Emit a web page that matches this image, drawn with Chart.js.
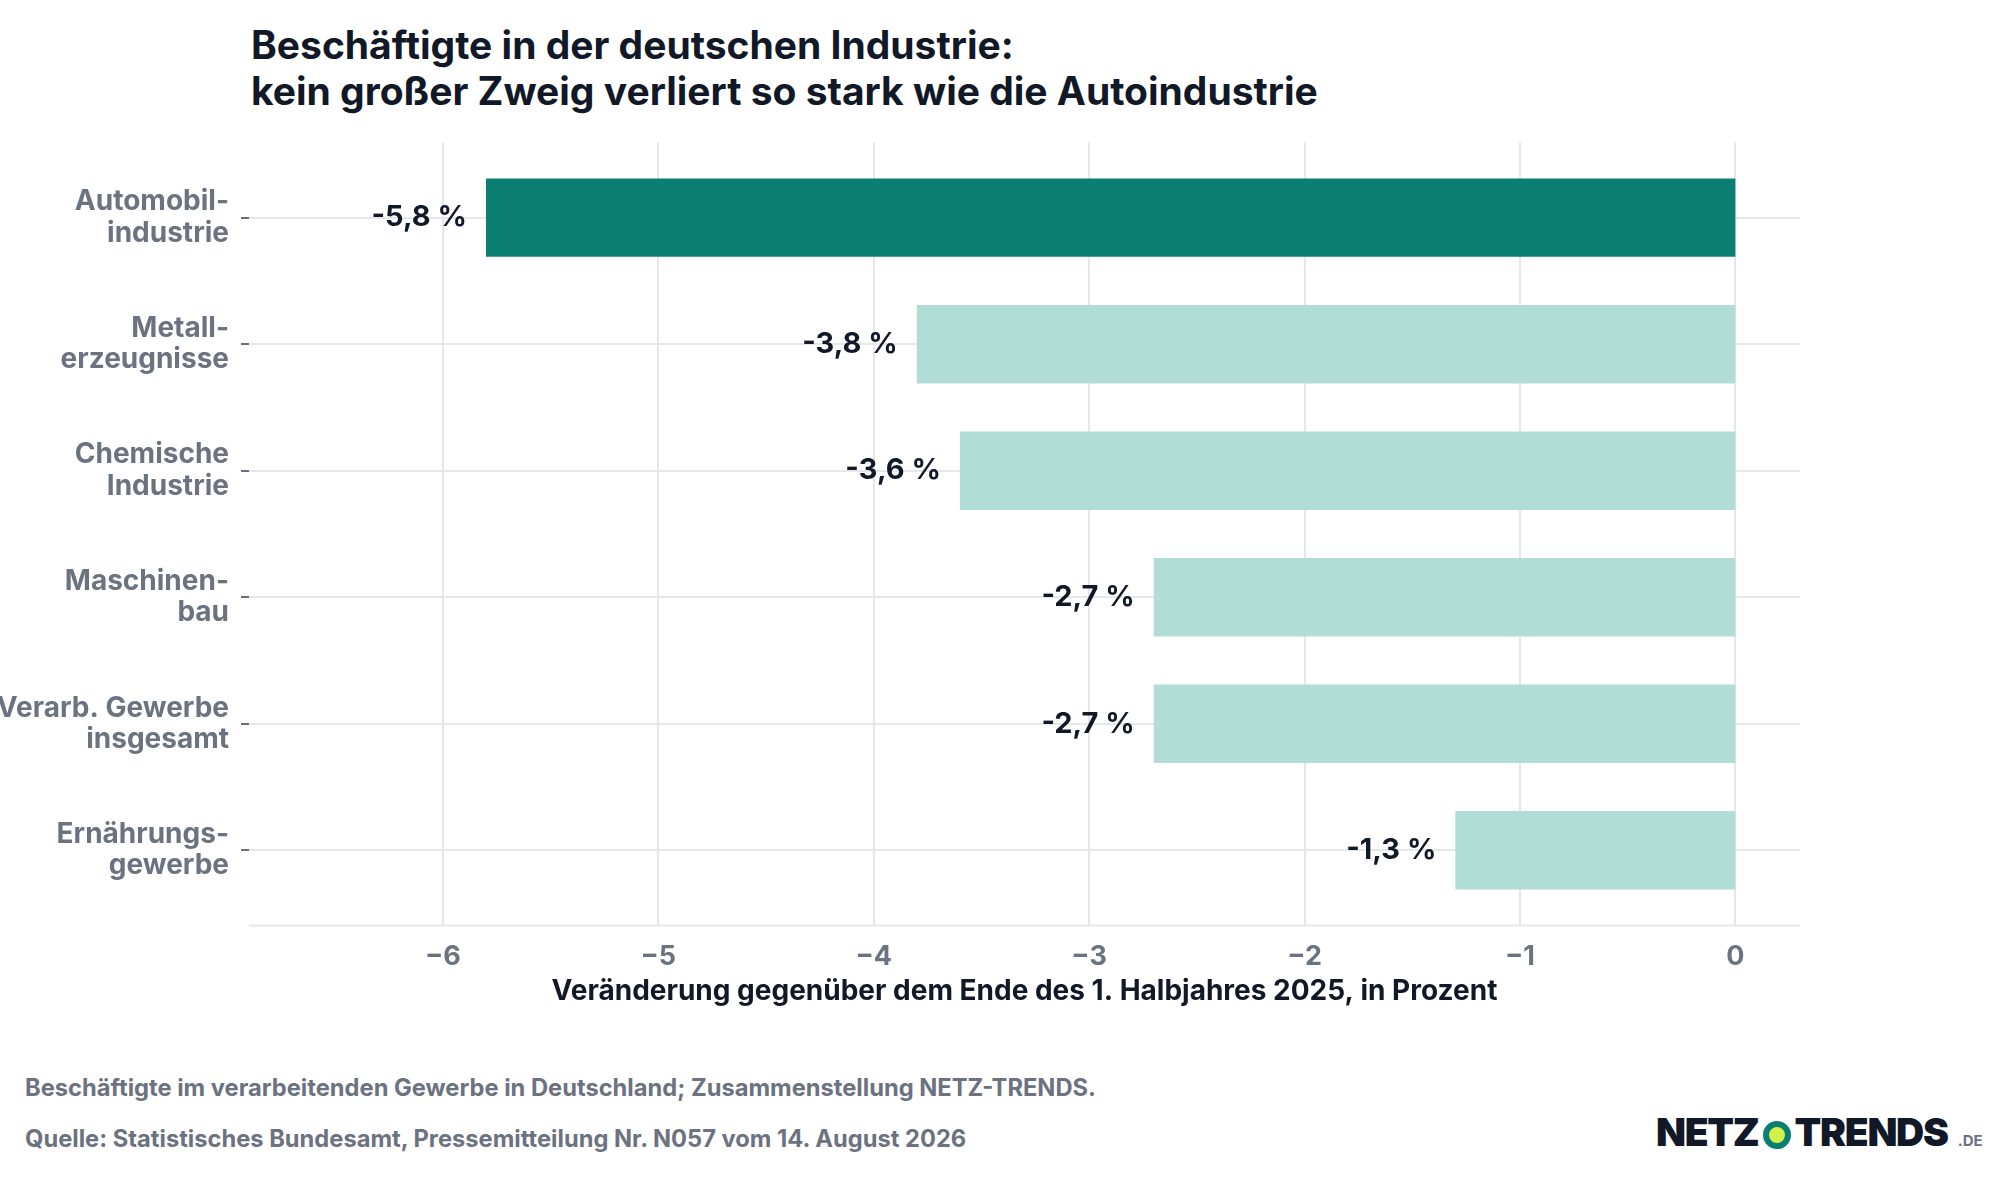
<!DOCTYPE html>
<html><head><meta charset="utf-8">
<script src="https://cdn.jsdelivr.net/npm/chart.js@4"></script>
<style>
body{margin:0;width:2000px;height:1200px;background:#fff;font-family:Inter,sans-serif;position:relative;overflow:hidden}
#t{position:absolute;left:251px;top:22px;font-size:39px;font-weight:700;color:#111827;line-height:46px}
#wrap{position:absolute;left:0;top:111px;width:1800px;height:899px}
.f{position:absolute;left:25px;font-size:23.7px;font-weight:700;color:#6b7280}
#logo{position:absolute;left:1656px;top:1108px;font-size:39px;font-weight:900;color:#111827;letter-spacing:-1.3px;white-space:nowrap}
#logo i{display:inline-block;width:16px;height:16px;border-radius:50%;background:#d4f04a;border:6px solid #0a7f71;vertical-align:-3px;margin:0 4px}
#logo small{font-size:15px;color:#6b7280;font-weight:700;margin-left:10px;letter-spacing:0}
</style></head><body>
<div id="t">Beschäftigte in der deutschen Industrie:<br>kein großer Zweig verliert so stark wie die Autoindustrie</div>
<div id="wrap"><canvas id="c"></canvas></div>
<div class="f" style="top:1073px">Beschäftigte im verarbeitenden Gewerbe in Deutschland; Zusammenstellung NETZ-TRENDS.</div>
<div class="f" style="top:1124px">Quelle: Statistisches Bundesamt, Pressemitteilung Nr. N057 vom 14. August 2026</div>
<div id="logo">NETZ<i></i>TRENDS<small>.DE</small></div>
<script>
/* Beschäftigte: Veränderung ggü. Ende 1. Halbjahr 2025 */
const categories = [["Automobil-", "industrie"], ["Metall-", "erzeugnisse"], ["Chemische", "Industrie"], ["Maschinen-", "bau"], ["Verarb. Gewerbe", "insgesamt"], ["Ernährungs-", "gewerbe"]];
const values = [-5.8, -3.8, -3.6, -2.7, -2.7, -1.3];
const xTicks = [-6, -5, -4, -3, -2, -1, 0];
const colors = values.map((v, i) => (i === 0 ? "#0a7f71" : "#b0ddd6"));

const fmt = (v) => v.toFixed(1).replace(".", ",") + " %";
const EXT = 12; // grid runs a bit past the category band

const gridPlugin = {
  id: "vgrid",
  beforeDatasetsDraw(chart) {
    const { ctx, chartArea: a, scales } = chart;
    ctx.save();
    ctx.strokeStyle = "#e5e7eb";
    ctx.lineWidth = 2;
    ctx.beginPath();
    xTicks.forEach((v) => {
      const x = Math.round(scales.x.getPixelForValue(v));
      ctx.moveTo(x, a.top - EXT);
      ctx.lineTo(x, a.bottom + EXT);
    });
    ctx.moveTo(a.left, a.bottom + EXT);
    ctx.lineTo(a.right, a.bottom + EXT);
    ctx.stroke();
    ctx.restore();
  },
  afterDatasetsDraw(chart) {
    const ctx = chart.ctx;
    const meta = chart.getDatasetMeta(0);
    ctx.save();
    ctx.font = "700 29px Inter";
    ctx.fillStyle = "#111827";
    ctx.textAlign = "right";
    ctx.textBaseline = "middle";
    meta.data.forEach((b, i) => ctx.fillText(fmt(values[i]), b.x - 19, b.y));
    ctx.restore();
  },
};

new Chart(document.getElementById("c"), {
  type: "bar",
  data: { labels: categories, datasets: [{ data: values, backgroundColor: colors, barPercentage: 0.62, categoryPercentage: 1 }] },
  plugins: [gridPlugin],
  options: {
    indexAxis: "y",
    responsive: true,
    maintainAspectRatio: false,
    animation: false,
    layout: { padding: { top: 8 } },
    plugins: { legend: { display: false }, tooltip: { enabled: false } },
    scales: {
      x: {
        min: -6.9, max: 0.3,
        afterBuildTicks: (s) => { s.ticks = xTicks.map((v) => ({ value: v })); },
        grid: { display: false },
        border: { display: false },
        ticks: { color: "#6b7280", font: { family: "Inter", size: 27, weight: "700" }, padding: 19, callback: (v) => (v < 0 ? "\u2212" + Math.abs(v) : v) },
        title: { display: true, text: "Veränderung gegenüber dem Ende des 1. Halbjahres 2025, in Prozent", color: "#111827", font: { family: "Inter", size: 28, weight: "700", lineHeight: 1.0 }, padding: { top: -14 } },
      },
      y: {
        afterFit: (s) => { s.width = 249; },
        grid: { offset: false, color: "#e5e7eb", lineWidth: 2, tickLength: 8, tickColor: "#374151", tickWidth: 1.5 },
        border: { display: false },
        ticks: { color: "#6b7280", font: { family: "Inter", size: 28, weight: "700", lineHeight: 1.12 }, padding: 12 },
      },
    },
  },
});
</script>
</body></html>
